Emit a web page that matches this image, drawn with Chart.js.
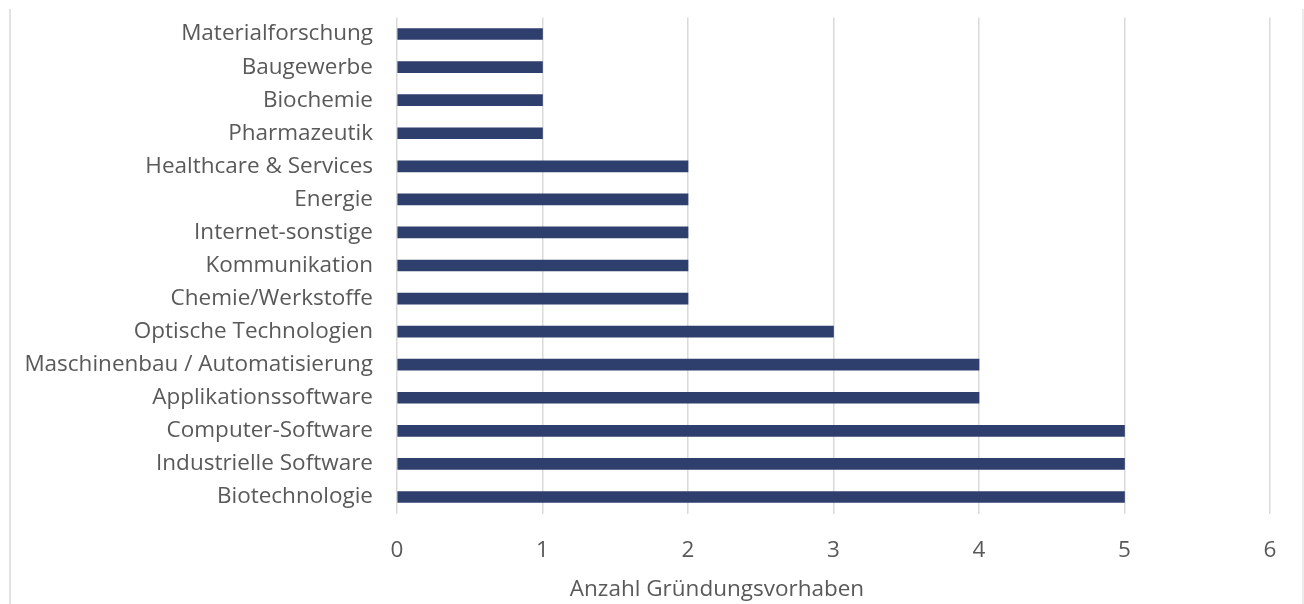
<!DOCTYPE html>
<html>
<head>
<meta charset="utf-8">
<script src="https://cdn.jsdelivr.net/npm/chart.js@4/dist/chart.umd.min.js"></script>
<style>
    html, body { margin: 0; padding: 0; background: #fff; }
    #wrap { position: relative; width: 1304px; height: 604px; }
    #frame-left { position: absolute; left: 9px; top: 9px; width: 2px; height: 595px; background: #e2e2e2; }
    #frame-right { position: absolute; left: 1302px; top: 9px; width: 2px; height: 595px; background: #ececec; }
</style>
</head>
<body>
<div id="wrap">
    <canvas id="chart" width="1304" height="604"></canvas>
    <div id="frame-left"></div>
    <div id="frame-right"></div>
</div>
<script>
const labels = [
    'Materialforschung',
    'Baugewerbe',
    'Biochemie',
    'Pharmazeutik',
    'Healthcare & Services',
    'Energie',
    'Internet-sonstige',
    'Kommunikation',
    'Chemie/Werkstoffe',
    'Optische Technologien',
    'Maschinenbau / Automatisierung',
    'Applikationssoftware',
    'Computer-Software',
    'Industrielle Software',
    'Biotechnologie'
]

const counts = [1, 1, 1, 1, 2, 2, 2, 2, 2, 3, 4, 4, 5, 5, 5]

const xTicks = [0, 1, 2, 3, 4, 5, 6]
const xTitle = 'Anzahl Gründungsvorhaben'

const FONT = '"Open Sans", "Noto Sans", sans-serif'
const FONT_SIZE = 22.5
const TEXT = '#595959'

// axis title sits centred under the whole plot incl. category labels
const axisTitle = {
    id: 'axisTitle',
    afterDraw(chart) {
        const ctx = chart.ctx
        ctx.save()
        ctx.font = `${FONT_SIZE}px ${FONT}`
        ctx.fillStyle = TEXT
        ctx.textAlign = 'center'
        ctx.textBaseline = 'middle'
        ctx.fillText(xTitle, 717, 590)
        ctx.restore()
    }
}

new Chart(document.getElementById('chart'), {
    type: 'bar',
    data: {
        labels,
        datasets: [{
            data: counts,
            backgroundColor: '#2e3f6e',
            barThickness: 11
        }]
    },
    options: {
        indexAxis: 'y',
        responsive: false,
        animation: false,
        layout: {
            padding: { top: 17.5, right: 34, left: 0, bottom: 0 }
        },
        plugins: {
            legend: { display: false },
            tooltip: { enabled: false }
        },
        scales: {
            x: {
                min: xTicks[0],
                max: xTicks[xTicks.length - 1],
                afterBuildTicks(scale) {
                    scale.ticks = xTicks.map(v => ({ value: v }))
                },
                afterFit(scale) {
                    scale.height = 90.5
                },
                border: { display: false },
                grid: {
                    color: '#dadada',
                    lineWidth: 1.5,
                    drawTicks: false
                },
                ticks: {
                    padding: 24,
                    color: TEXT,
                    font: { family: FONT, size: FONT_SIZE }
                }
            },
            y: {
                afterFit(scale) {
                    scale.width = 397
                    // no extra room for half a label above/below
                    scale.paddingTop = 0
                    scale.paddingBottom = 0
                },
                border: { display: false },
                grid: { display: false, drawTicks: false },
                ticks: {
                    padding: 24,
                    color: TEXT,
                    autoSkip: false,
                    font: { family: FONT, size: FONT_SIZE }
                }
            }
        }
    },
    plugins: [axisTitle]
})
</script>
</body>
</html>
